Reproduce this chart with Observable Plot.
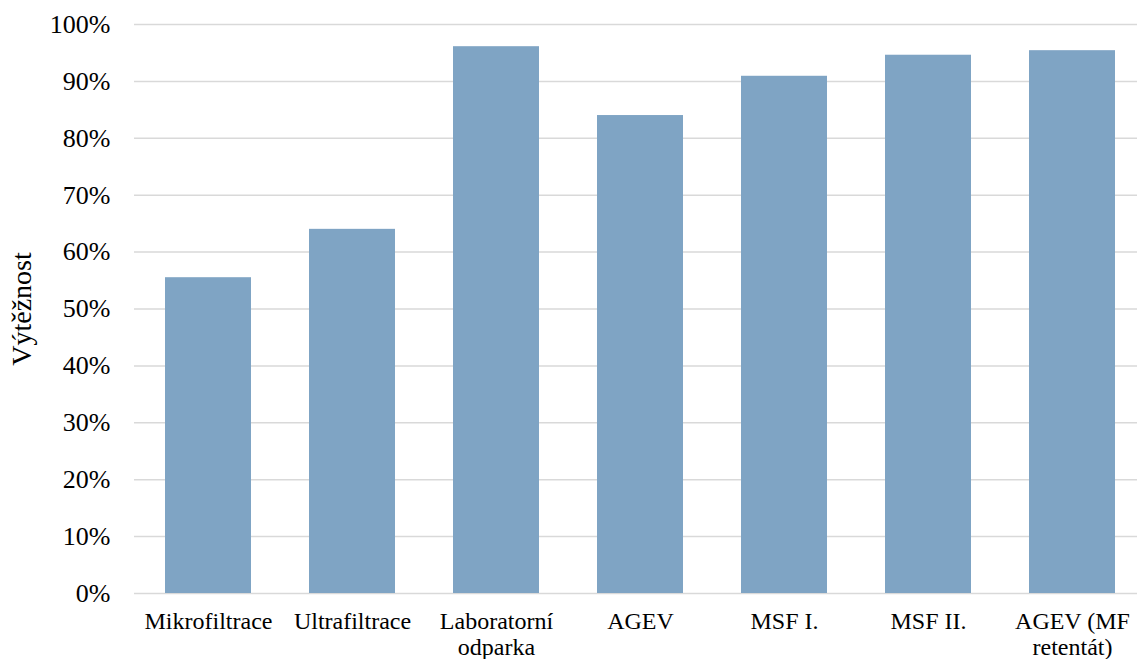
<!DOCTYPE html>
<html>
<head>
<meta charset="utf-8">
<script src="https://cdn.jsdelivr.net/npm/d3@7"></script>
<script src="https://cdn.jsdelivr.net/npm/@observablehq/plot@0.6"></script>
<style>
  html, body { margin: 0; padding: 0; background: #fff; overflow: hidden; }
  #chart svg { display: block; }
  #chart svg text { font-family: "Liberation Serif", "Times New Roman", serif; }
</style>
</head>
<body>
<div id="chart"></div>
<script>
// Výtěžnost jednotlivých metod (podíl 0–1)
const categories = [
  "Mikrofiltrace",
  "Ultrafiltrace",
  "Laboratorní\nodparka",
  "AGEV",
  "MSF I.",
  "MSF II.",
  "AGEV (MF\nretentát)"
];
const values = [0.555, 0.640, 0.961, 0.840, 0.909, 0.946, 0.954];
const yTicks = [0, 0.1, 0.2, 0.3, 0.4, 0.5, 0.6, 0.7, 0.8, 0.9, 1.0];

const data = categories.map((c, i) => ({category: c, value: values[i]}));

const serif = "'Liberation Serif', 'Times New Roman', serif";
const W = 1137, H = 659;
const chart = Plot.plot({
  width: W,
  height: H,
  marginTop: 24,
  marginBottom: 66,
  marginLeft: 134,
  marginRight: 0,
  style: {fontFamily: serif, background: "#fff", color: "#000"},
  x: {domain: categories, range: [134.25, 1145.75], paddingInner: 0.4, paddingOuter: 0.2, label: null},
  y: {domain: [0, 1], label: null},
  marks: [
    Plot.ruleY(yTicks, {stroke: "#d9d9d9", strokeWidth: 1.5}),
    Plot.barY(data, {x: "category", y: "value", fill: "#7fa4c4"}),
    Plot.axisY(yTicks, {
      tickSize: 0, tickPadding: 24, fontSize: 26, fontFamily: serif,
      tickFormat: d => Math.round(d * 100) + "%",
      label: null
    }),
    Plot.axisX({
      tickSize: 0, tickPadding: 17, fontSize: 24, lineHeight: 1.08, fontFamily: serif,
      label: null
    }),
    Plot.text(["Výtěžnost"], {
      frameAnchor: "left", dx: -112, rotate: -90, fontSize: 28, fontFamily: serif,
      textAnchor: "middle"
    })
  ]
});
document.getElementById("chart").appendChild(chart);
</script>
</body>
</html>
